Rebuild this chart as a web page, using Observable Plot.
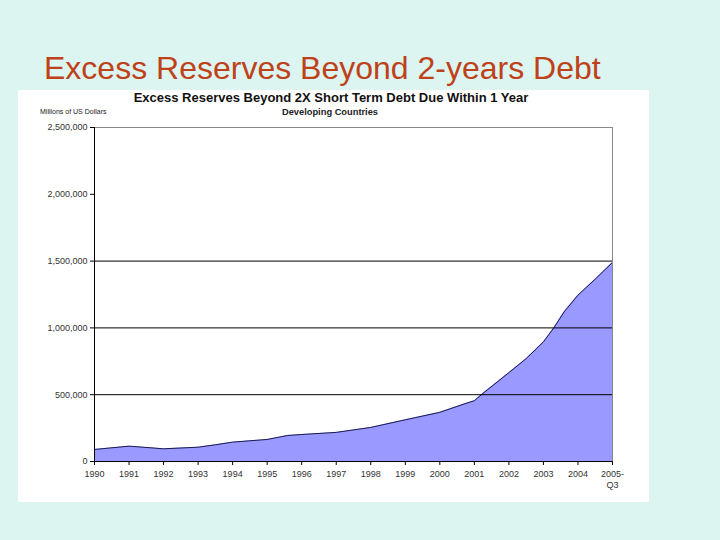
<!DOCTYPE html>
<html>
<head>
<meta charset="utf-8">
<script src="https://cdn.jsdelivr.net/npm/d3@7"></script>
<script src="https://cdn.jsdelivr.net/npm/@observablehq/plot@0.6"></script>
<style>
  html, body { margin: 0; padding: 0; }
  body { width: 720px; height: 540px; background: #dcf5f1; position: relative; overflow: hidden; font-family: "Liberation Sans", Arial, sans-serif; }
  #slideTitle { position: absolute; left: 44px; top: 50px; font-size: 32px; line-height: 36px; color: #bf4119; white-space: nowrap; }
  #panel { position: absolute; left: 18px; top: 90px; width: 631px; height: 412px; background: #fff; }
  #ctitle { position: absolute; left: 0; width: 626px; top: 0px; text-align: center; font-weight: bold; font-size: 13px; color: #111; white-space: nowrap; }
  #csub { position: absolute; left: 0; width: 624px; top: 17px; text-align: center; font-weight: bold; font-size: 9.3px; color: #222; }
  #units { position: absolute; left: 22px; top: 18px; font-size: 7px; color: #222; white-space: nowrap; }
  #chart { position: absolute; left: 0; top: 0; }
</style>
</head>
<body>
<div id="slideTitle">Excess Reserves Beyond 2-years Debt</div>
<div id="panel">
  <div id="chart"></div>
  <div id="ctitle">Excess Reserves Beyond 2X Short Term Debt Due Within 1 Year</div>
  <div id="csub">Developing Countries</div>
  <div id="units">Millions of US Dollars</div>
</div>
<script>
// Time position (0 = 1990, 15 = 2005-Q3) and reserves (millions of US dollars)
const timePos = [0, 1, 2, 3, 3.5, 4, 5, 5.6, 6, 7, 8, 9, 10, 10.7, 11, 11.25, 12, 12.5, 13, 13.3, 13.6, 14, 14.5, 15];
const reserves = [90000, 115000, 95000, 107000, 125000, 145000, 165000, 195000, 202000, 218000, 255000, 312000, 368000, 430000, 455000, 510000, 665000, 770000, 895000, 1000000, 1120000, 1245000, 1365000, 1490000];
const xTickLabels = ["1990", "1991", "1992", "1993", "1994", "1995", "1996", "1997", "1998", "1999", "2000", "2001", "2002", "2003", "2004", "2005-\nQ3"];
const yTicks = [0, 500000, 1000000, 1500000, 2000000, 2500000];
const gridValues = [500000, 1000000, 1500000];

const data = timePos.map((t, i) => ({t, v: reserves[i]}));

const chart = Plot.plot({
  width: 631,
  height: 412,
  marginLeft: 76,
  marginRight: 37,
  marginTop: 37,
  marginBottom: 41,
  style: {fontFamily: "'Liberation Sans', Arial, sans-serif", fontSize: "9px", color: "#333", background: "transparent"},
  x: {domain: [0, 15]},
  y: {domain: [0, 2500000]},
  marks: [
    Plot.areaY(data, {x: "t", y: "v", fill: "#9999ff"}),
    Plot.lineY(data, {x: "t", y: "v", stroke: "#1a1a50", strokeWidth: 1}),
    Plot.ruleY(gridValues, {stroke: "#000", strokeWidth: 1}),
    Plot.ruleY([2500000], {stroke: "#888", strokeWidth: 1}),
    Plot.ruleX([15], {stroke: "#888", strokeWidth: 1}),
    Plot.ruleX([0], {stroke: "#000", strokeWidth: 1}),
    Plot.ruleY([0], {stroke: "#000", strokeWidth: 1}),
    Plot.axisY({ticks: yTicks, tickFormat: d3.format(","), tickSize: 4, tickPadding: 3, label: null, stroke: "#000", fill: "#333"}),
    Plot.axisX({ticks: d3.range(16), tickFormat: i => xTickLabels[i], tickSize: 4, tickPadding: 4, label: null, stroke: "#000", fill: "#333", lineHeight: 1.2})
  ]
});
document.getElementById("chart").appendChild(chart);
</script>
</body>
</html>
